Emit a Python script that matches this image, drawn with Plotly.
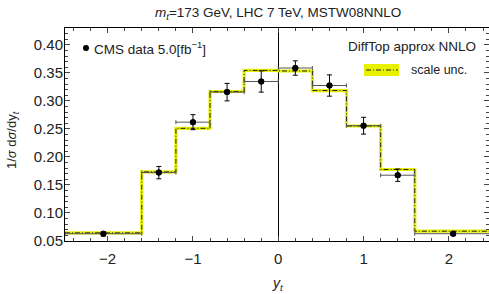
import plotly.graph_objects as go

# ---- data ----
bin_edges = [-2.5, -1.6, -1.2, -0.8, -0.4, 0.0, 0.4, 0.8, 1.2, 1.6, 2.5]
theory = [0.0645, 0.1733, 0.2510, 0.3167, 0.3543, 0.3533, 0.3184, 0.2552, 0.1776, 0.0675]
data_x = [-2.05, -1.4, -1.0, -0.6, -0.2, 0.2, 0.6, 1.0, 1.4, 2.05]
data_y = [0.063, 0.172, 0.262, 0.3156, 0.3346, 0.3586, 0.3274, 0.2557, 0.1674, 0.063]
data_err = [0.004, 0.011, 0.0134, 0.0156, 0.019, 0.0128, 0.019, 0.015, 0.011, 0.003]
x_ticks = [-2, -1, 0, 1, 2]
y_ticks = [0.05, 0.10, 0.15, 0.20, 0.25, 0.30, 0.35, 0.40]

W, H = 489, 294
ML, MR, MT, MB = 65, 0, 28, 53
PW, PH = W - ML - MR, H - MT - MB
FONT = "Liberation Sans"
TXT = "#222"
YEL = "#e8f200"

def px(X):
    return (X - ML) / PW

def py(Y):
    return (H - MB - Y) / PH

step_y = theory + [theory[-1]]
xerr_plus = [bin_edges[i + 1] - data_x[i] for i in range(len(data_x))]
xerr_minus = [data_x[i] - bin_edges[i] for i in range(len(data_x))]

fig = go.Figure()
fig.add_trace(go.Scatter(x=bin_edges, y=step_y, mode="lines", line_shape="hv",
                         line=dict(color=YEL, width=3.2), hoverinfo="skip", showlegend=False))
fig.add_trace(go.Scatter(x=bin_edges, y=step_y, mode="lines", line_shape="hv",
                         line=dict(color="#222", width=1, dash="5px,2px,1px,2px"),
                         hoverinfo="skip", showlegend=False))
fig.add_trace(go.Scatter(x=data_x, y=data_y, mode="markers",
                         marker=dict(color="black", size=6),
                         error_x=dict(type="data", symmetric=False, array=xerr_plus,
                                      arrayminus=xerr_minus, color="#555", thickness=1, width=2),
                         showlegend=False))
fig.add_trace(go.Scatter(x=data_x, y=data_y, mode="markers",
                         marker=dict(color="black", size=6),
                         error_y=dict(type="data", array=data_err, color="black", thickness=1, width=2.5),
                         showlegend=False))

axis_common = dict(ticks="inside", ticklen=5, tickcolor="#444", showline=True,
                   linecolor="black", linewidth=1, mirror="ticks", showgrid=False,
                   automargin=False, tickfont=dict(family=FONT, size=15, color=TXT))
fig.update_xaxes(range=[-2.5, 2.47], tickvals=x_ticks, zeroline=True, zerolinecolor="black",
                 zerolinewidth=1, ticklabelstandoff=4,
                 minor=dict(dtick=0.2, tick0=0, ticks="inside", ticklen=3, tickcolor="#444"),
                 **axis_common)
fig.update_yaxes(range=[0.05, 0.43], tickvals=y_ticks, tickformat=".2f", zeroline=False,
                 ticklabelstandoff=-2,
                 minor=dict(dtick=0.01, tick0=0, ticks="inside", ticklen=3, tickcolor="#444"),
                 **axis_common)

ann = []
ann.append(dict(text="<i>m</i><sub><i>t</i></sub>=173 GeV, LHC 7 TeV, MSTW08NNLO",
                x=px(277.5), y=py(13.5), xref="paper", yref="paper", showarrow=False,
                xanchor="center", yanchor="middle", font=dict(family=FONT, size=13.5, color=TXT)))
ann.append(dict(text="<i>y</i><sub><i>t</i></sub>", x=px(278), y=py(284), xref="paper", yref="paper",
                showarrow=False, xanchor="center", yanchor="middle",
                font=dict(family=FONT, size=14, color=TXT)))
ann.append(dict(text="1/<i>σ</i> d<i>σ</i>/dy<sub><i>t</i></sub>", x=px(12), y=py(140),
                xref="paper", yref="paper", showarrow=False, textangle=-90,
                xanchor="center", yanchor="middle", font=dict(family=FONT, size=13, color=TXT)))
ann.append(dict(text="CMS data 5.0[fb<sup>−1</sup>]", x=px(92), y=py(48), xref="paper", yref="paper",
                showarrow=False, xanchor="left", yanchor="middle",
                font=dict(family=FONT, size=13.5, color=TXT)))
ann.append(dict(text="DiffTop approx NNLO", x=px(478), y=py(46.7), xref="paper", yref="paper",
                showarrow=False, xanchor="right", yanchor="middle",
                font=dict(family=FONT, size=13.5, color=TXT)))
ann.append(dict(text="scale unc.", x=px(409), y=py(70), xref="paper", yref="paper",
                showarrow=False, xanchor="left", yanchor="middle",
                font=dict(family=FONT, size=12.5, color=TXT)))

shapes = []
shapes.append(dict(type="circle", xref="paper", yref="paper", x0=px(83), x1=px(89), y0=py(51), y1=py(45),
                   fillcolor="black", line=dict(width=0)))
shapes.append(dict(type="rect", xref="paper", yref="paper", x0=px(364), x1=px(399), y0=py(76), y1=py(64),
                   fillcolor=YEL, line=dict(width=0)))
shapes.append(dict(type="line", xref="paper", yref="paper", x0=px(366), x1=px(398), y0=py(70), y1=py(70),
                   line=dict(color="#222", width=1, dash="5px,2px,1px,2px")))

fig.update_layout(width=W, height=H, margin=dict(l=ML, r=MR, t=MT, b=MB, autoexpand=False),
                  paper_bgcolor="white", plot_bgcolor="white",
                  annotations=ann, shapes=shapes, showlegend=False)
fig.write_html("out.html", config={"displayModeBar": False},
               post_script="document.body.style.margin='0';document.body.style.padding='0';"
                           "document.documentElement.style.overflow='hidden';")
